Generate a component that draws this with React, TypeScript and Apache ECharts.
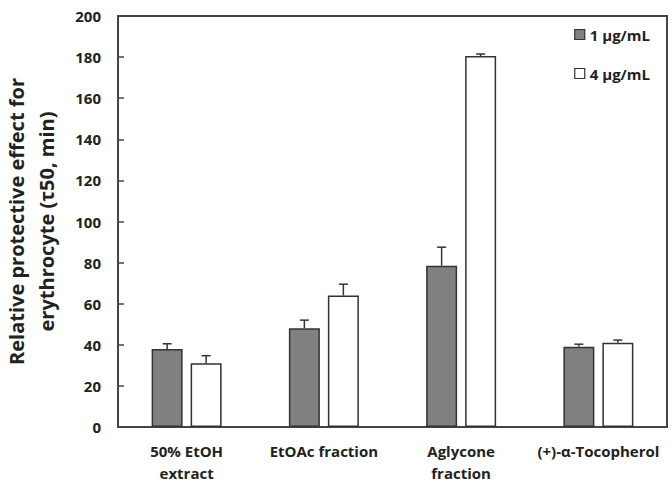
import React, { useEffect, useRef } from "react";
import * as echarts from "echarts";

// Samples along the category axis
const categories = ["50% EtOH\nextract", "EtOAc fraction", "Aglycone\nfraction", "(+)-α-Tocopherol"];
// Relative protective effect (τ50, min) at each concentration
const low = [38, 48, 78.5, 39];
const high = [31, 64, 180.5, 41];
// Upper error (standard deviation)
const lowErr = [2.5, 4, 9, 1.3];
const highErr = [3.7, 5.5, 1, 1.3];
const seriesNames = ["1 μg/mL", "4 μg/mL"];
const yTicks = { min: 0, max: 200, interval: 20 };

const FONT = "'Open Sans', Lato, sans-serif";
const BAR_W = 31;
const BAR_GAP = 8;

function errorSeries(values: number[], errs: number[], side: number) {
  return {
    type: "custom",
    silent: true,
    z: 5,
    data: values.map((v, i) => [i, v, errs[i]]),
    encode: { x: 0, y: 1 },
    renderItem: (params: any, api: any) => {
      const idx = api.value(0);
      const v = api.value(1);
      const e = api.value(2);
      const base = api.coord([idx, v]);
      const top = api.coord([idx, v + e]);
      const x = base[0] + (side * (BAR_W + BAR_GAP)) / 2;
      const cap = 4.5;
      const style = { stroke: "#333", lineWidth: 1.5, fill: "none" };
      return {
        type: "group",
        children: [
          { type: "line", shape: { x1: x, y1: base[1], x2: x, y2: top[1] }, style },
          { type: "line", shape: { x1: x - cap, y1: top[1], x2: x + cap, y2: top[1] }, style },
        ],
      };
    },
  };
}

export default function App() {
  const ref = useRef<HTMLDivElement>(null);

  useEffect(() => {
    if (!ref.current) return;
    const chart = echarts.init(ref.current, null, { renderer: "svg" });
    chart.setOption({
      animation: false,
      backgroundColor: "#fff",
      textStyle: { fontFamily: FONT },
      grid: {
        left: 118,
        right: 4,
        top: 16,
        bottom: 57,
        outerBoundsMode: "none",
        containLabel: false,
        show: true,
        borderColor: "#444",
        borderWidth: 2,
        backgroundColor: "transparent",
      },
      legend: {
        orient: "vertical",
        right: 16,
        top: 22,
        itemWidth: 10,
        itemHeight: 10,
        itemGap: 24,
        itemStyle: { borderColor: "#333", borderWidth: 1.2 },
        icon: "rect",
        textStyle: { fontFamily: FONT, fontWeight: "bold", fontSize: 15, color: "#222" },
        data: seriesNames,
      },
      xAxis: {
        type: "category",
        data: categories,
        axisLine: { lineStyle: { color: "#444", width: 2 } },
        axisTick: { inside: true, length: 3, lineStyle: { color: "#999", width: 1 } },
        axisLabel: {
          fontFamily: FONT,
          fontWeight: "bold",
          fontSize: 15,
          color: "#222",
          margin: 13,
          lineHeight: 22,
          interval: 0,
        },
      },
      yAxis: {
        type: "value",
        min: yTicks.min,
        max: yTicks.max,
        interval: yTicks.interval,
        name: "Relative protective effect for\nerythrocyte (τ50, min)",
        nameLocation: "middle",
        nameGap: 57,
        nameTextStyle: {
          fontFamily: FONT,
          fontWeight: "bold",
          fontSize: 20,
          color: "#222",
          lineHeight: 30,
        },
        axisLine: { show: true, lineStyle: { color: "#444", width: 2 } },
        axisTick: { show: true, inside: true, length: 6, lineStyle: { color: "#444", width: 1.5 } },
        axisLabel: { fontFamily: FONT, fontWeight: "bold", fontSize: 15, color: "#222", margin: 17 },
        splitLine: { show: false },
      },
      series: [
        {
          name: seriesNames[0],
          type: "bar",
          data: low,
          barWidth: BAR_W,
          barGap: (BAR_GAP / BAR_W) * 100 + "%",
          itemStyle: { color: "#808080", borderColor: "#333", borderWidth: 1.5 },
        },
        {
          name: seriesNames[1],
          type: "bar",
          data: high,
          barWidth: BAR_W,
          itemStyle: { color: "#fff", borderColor: "#333", borderWidth: 1.5 },
        },
        errorSeries(low, lowErr, -1),
        errorSeries(high, highErr, 1),
      ],
    });
    return () => chart.dispose();
  }, []);

  return <div ref={ref} style={{ width: 671, height: 484, position: "absolute", left: 0, top: 0 }} />;
}
